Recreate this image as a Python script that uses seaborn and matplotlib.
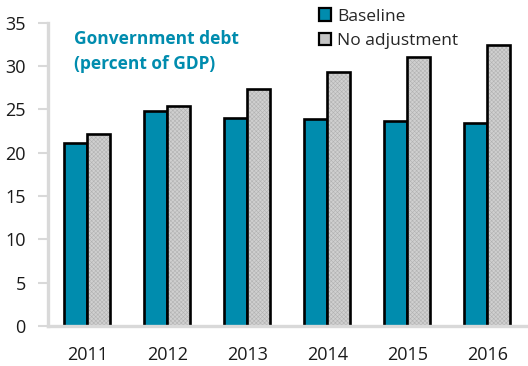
import matplotlib
matplotlib.use("Agg")
import matplotlib.pyplot as plt
import seaborn as sns
import pandas as pd
from matplotlib.patches import Patch, Rectangle

years = ["2011", "2012", "2013", "2014", "2015", "2016"]
baseline = [21.1, 24.8, 24.0, 23.9, 23.7, 23.4]
no_adjustment = [22.2, 25.4, 27.4, 29.3, 31.1, 32.4]
series_names = ["Baseline", "No adjustment"]
y_ticks = [0, 5, 10, 15, 20, 25, 30, 35]

teal = "#008CAE"
grey = "#d0d0d0"
hatch_grey = "#b2b2b2"
axis_grey = "#d9d9d9"

df = pd.DataFrame({
    "year": years * 2,
    "value": baseline + no_adjustment,
    "series": [series_names[0]] * len(years) + [series_names[1]] * len(years),
})

sns.set_theme(style="white")
plt.rcParams["font.family"] = ["Open Sans", "DejaVu Sans"]
plt.rcParams["hatch.linewidth"] = 0.4

fig = plt.figure(figsize=(5.28, 3.66), dpi=100)
ax = fig.add_axes([0.091, 0.109, 0.909, 0.829])

sns.barplot(data=df, x="year", y="value", hue="series",
            palette=[teal, grey], width=0.58, saturation=1,
            edgecolor="black", linewidth=1.9, ax=ax, legend=False)

# fine grey texture on the "No adjustment" bars, with a black outline on top
for patch in list(ax.patches[len(years):2 * len(years)]):
    patch.set_hatch("xxxxxxxx")
    patch.set_edgecolor(hatch_grey)
    patch.set_linewidth(0)
    outline = Rectangle(patch.get_xy(), patch.get_width(), patch.get_height(),
                        facecolor="none", edgecolor="black", linewidth=1.9,
                        zorder=patch.get_zorder() + 0.1)
    ax.add_patch(outline)

ax.set_ylim(0, 35)
ax.set_xlim(-0.49, 5.51)
ax.set_yticks(y_ticks)
ax.set_xlabel("")
ax.set_ylabel("")

for side in ["top", "right"]:
    ax.spines[side].set_visible(False)
for side in ["left", "bottom"]:
    ax.spines[side].set_color(axis_grey)
    ax.spines[side].set_linewidth(2.4)

ax.tick_params(axis="y", which="major", direction="out", length=7,
               width=1.5, color=axis_grey, labelsize=13, pad=9,
               left=True, labelcolor="#1a1a1a")
ax.tick_params(axis="x", length=0, labelsize=13, pad=14, labelcolor="#1a1a1a")

ax.text(0.055, 0.975, "Gonvernment debt\n(percent of GDP)",
        transform=ax.transAxes, ha="left", va="top", color=teal,
        fontsize=12.5, fontweight="bold", linespacing=1.5)

handles = [
    Patch(facecolor=teal, edgecolor="black", linewidth=1.6),
    Patch(facecolor="#c4c4c4", edgecolor="black", linewidth=1.6),
]
leg = ax.legend(handles, series_names, loc="upper left",
                bbox_to_anchor=(0.55, 1.07), frameon=False, fontsize=12.5,
                handlelength=0.7, handleheight=0.7, handletextpad=0.35,
                labelspacing=0.5, borderaxespad=0)

fig.savefig("out.png", dpi=100)
